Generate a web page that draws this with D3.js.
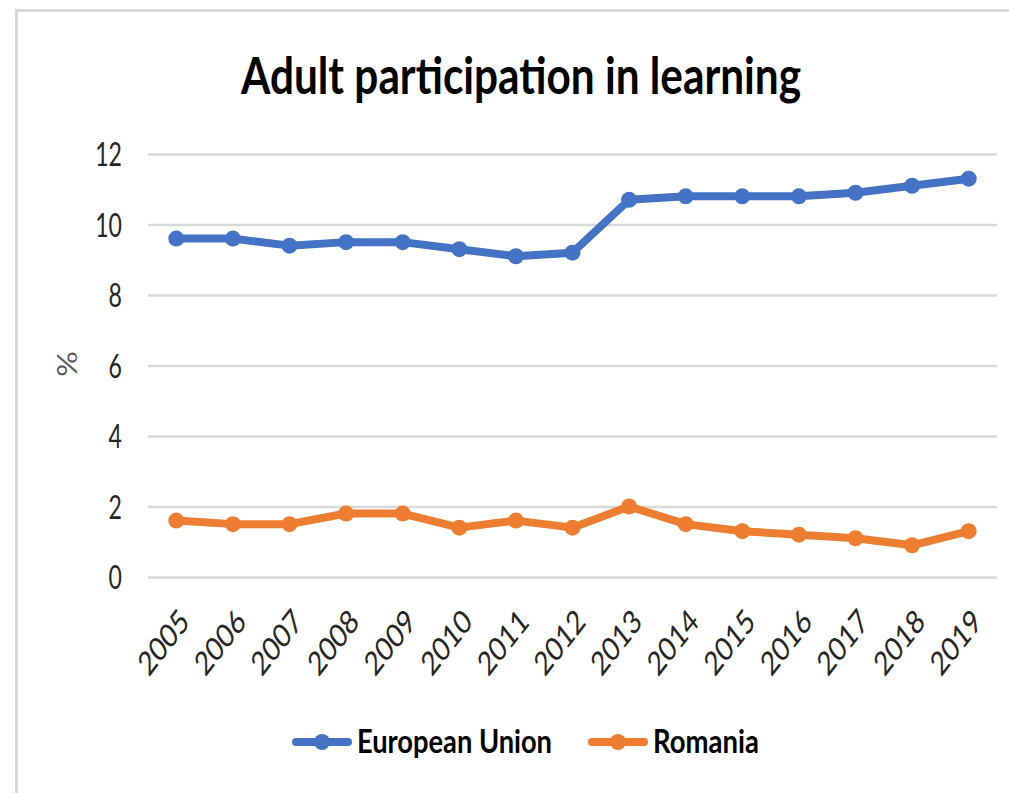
<!DOCTYPE html>
<html>
<head>
<meta charset="utf-8">
<script src="https://cdn.jsdelivr.net/npm/d3@7"></script>
<style>
  html, body { margin: 0; padding: 0; background: #fff; }
  text { font-family: Lato, "Open Sans", sans-serif; }
</style>
</head>
<body>
<svg id="chart" width="1009" height="793"></svg>
<script>
"use strict";

var years = ["2005", "2006", "2007", "2008", "2009", "2010", "2011", "2012",
             "2013", "2014", "2015", "2016", "2017", "2018", "2019"];
var euValues = [9.6, 9.6, 9.4, 9.5, 9.5, 9.3, 9.1, 9.2, 10.7, 10.8, 10.8, 10.8, 10.9, 11.1, 11.3];
var roValues = [1.6, 1.5, 1.5, 1.8, 1.8, 1.4, 1.6, 1.4, 2.0, 1.5, 1.3, 1.2, 1.1, 0.9, 1.3];
var seriesNames = ["European Union", "Romania"];
var seriesColors = ["#4472C4", "#ED7D31"];
var yTicks = [0, 2, 4, 6, 8, 10, 12];
var titleText = "Adult participation in learning";
var yTitle = "%";

var W = 1009, H = 793,
    SX = 0.7,                       // horizontal squeeze of all lettering
    plot = { left: 148, right: 997, top: 154, bottom: 577 };

var svg = d3.select("#chart");

// outer chart frame (runs off the right and bottom edges)
svg.append("path")
    .attr("d", "M16.5," + (H + 5) + "V10.5H" + (W + 5))
    .attr("fill", "none")
    .attr("stroke", "#d9d9d9")
    .attr("stroke-width", 3);

var x = d3.scaleBand().domain(years).range([plot.left, plot.right]).padding(0);
var y = d3.scaleLinear().domain([0, 12]).range([plot.bottom, plot.top]);

// title
svg.append("text")
    .attr("x", 521)
    .attr("y", 94)
    .attr("text-anchor", "middle")
    .attr("font-size", 51)
    .attr("font-weight", "bold")
    .attr("fill", "#000")
    .attr("textLength", 560)
    .attr("lengthAdjust", "spacingAndGlyphs")
    .text(titleText);

// gridlines + y labels
var yAxis = svg.append("g")
    .attr("transform", "translate(" + plot.left + ",0)")
    .call(d3.axisLeft(y).tickValues(yTicks).tickSize(-(plot.right - plot.left)).tickPadding(0));
yAxis.select(".domain").remove();
yAxis.selectAll(".tick line")
    .attr("stroke", "#d9d9d9")
    .attr("stroke-width", 2.5);
yAxis.selectAll(".tick text")
    .attr("font-family", "Lato, 'Open Sans', sans-serif")
    .attr("font-size", 33)
    .attr("fill", "#262626")
    .attr("text-anchor", "end")
    .attr("dy", "0.36em")
    .attr("x", 0)
    .attr("transform", "translate(-26,0) scale(" + SX + ",1)");

// y title
svg.append("text")
    .attr("transform", "translate(77,364) rotate(-90) scale(1,0.85)")
    .attr("text-anchor", "middle")
    .attr("font-size", 32)
    .attr("fill", "#595959")
    .text(yTitle);

// x labels
var xAxis = svg.append("g")
    .attr("transform", "translate(0," + plot.bottom + ")")
    .call(d3.axisBottom(x).tickSize(0).tickPadding(0));
xAxis.select(".domain").remove();
xAxis.selectAll(".tick text")
    .attr("font-family", "Lato, 'Open Sans', sans-serif")
    .attr("font-size", 33)
    .attr("fill", "#262626")
    .attr("text-anchor", "end")
    .attr("y", 0)
    .attr("dy", "0.36em")
    .attr("transform", "translate(8,38) scale(" + (SX + 0.08) + ",1) rotate(-45)");

// series
var series = [euValues, roValues];
var line = d3.line()
    .x(function (d, i) { return x(years[i]) + x.bandwidth() / 2; })
    .y(function (d) { return y(d); });

series.forEach(function (vals, s) {
    var g = svg.append("g").attr("class", "series");
    g.append("path")
        .datum(vals)
        .attr("d", line)
        .attr("fill", "none")
        .attr("stroke", seriesColors[s])
        .attr("stroke-width", 8)
        .attr("stroke-linejoin", "round")
        .attr("stroke-linecap", "round");
    g.selectAll("circle")
        .data(vals)
        .enter().append("circle")
        .attr("cx", function (d, i) { return x(years[i]) + x.bandwidth() / 2; })
        .attr("cy", function (d) { return y(d); })
        .attr("r", 8)
        .attr("fill", seriesColors[s]);
});

// legend
var legendItems = [
    { x: 292, len: 195 },
    { x: 588, len: 106 }
];
var lg = svg.append("g").attr("class", "legend");
legendItems.forEach(function (it, i) {
    var ly = 742;
    lg.append("line")
        .attr("x1", it.x + 4).attr("x2", it.x + 56)
        .attr("y1", ly).attr("y2", ly)
        .attr("stroke", seriesColors[i])
        .attr("stroke-width", 8)
        .attr("stroke-linecap", "round");
    lg.append("circle")
        .attr("cx", it.x + 30).attr("cy", ly)
        .attr("r", 8)
        .attr("fill", seriesColors[i]);
    lg.append("text")
        .attr("x", it.x + 65)
        .attr("y", 753)
        .attr("font-size", 33)
        .attr("font-weight", "bold")
        .attr("fill", "#000")
        .attr("textLength", it.len)
        .attr("lengthAdjust", "spacingAndGlyphs")
        .text(seriesNames[i]);
});
</script>
</body>
</html>
